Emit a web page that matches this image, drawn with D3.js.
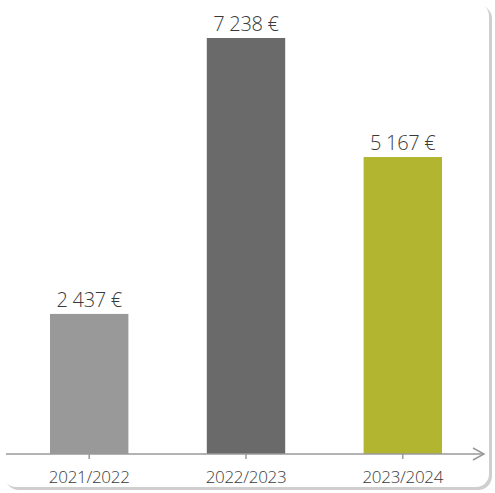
<!DOCTYPE html>
<html>
<head>
<meta charset="utf-8">
<script src="https://cdn.jsdelivr.net/npm/d3@7"></script>
<style>
  body { margin: 0; background: #fff; }
  svg { display: block; font-family: "Open Sans", sans-serif; }
</style>
</head>
<body>
<div id="chart"></div>
<script>
// data
const years = ["2021/2022", "2022/2023", "2023/2024"];
const amounts = [2437, 7238, 5167];
const barColors = ["#999999", "#6a6a6a", "#b1b52f"];

const W = 495, H = 493;
const baseY = 454;

const svg = d3.select("#chart").append("svg")
  .attr("width", W)
  .attr("height", H);

// card background with soft shadow
svg.append("rect")
  .attr("x", 5).attr("y", 5)
  .attr("width", W - 8).attr("height", H - 8)
  .attr("rx", 14)
  .attr("fill", "#cfcfcf");
svg.append("rect")
  .attr("x", 3).attr("y", 3)
  .attr("width", W - 9).attr("height", H - 9)
  .attr("rx", 13)
  .attr("fill", "#fff");

const x = d3.scaleBand()
  .domain(years)
  .range([50, 442])
  .paddingInner(0.5);

const y = d3.scaleLinear()
  .domain([0, 7238])
  .range([baseY, 38]);

const data = years.map((d, i) => ({ year: d, value: amounts[i], color: barColors[i] }));

svg.selectAll(".bar")
  .data(data)
  .enter()
  .append("rect")
  .attr("class", "bar")
  .attr("x", d => x(d.year))
  .attr("y", d => y(d.value))
  .attr("width", x.bandwidth())
  .attr("height", d => baseY - y(d.value))
  .attr("fill", d => d.color);

const fmt = v => d3.format(",")(v).replace(/,/g, " ") + " €";

svg.selectAll(".val")
  .data(data)
  .enter()
  .append("text")
  .attr("class", "val")
  .attr("x", d => x(d.year) + x.bandwidth() / 2)
  .attr("y", d => y(d.value) - 7)
  .attr("text-anchor", "middle")
  .style("font-size", "20px")
  .style("font-weight", 300)
  .style("letter-spacing", "-0.3px")
  .attr("fill", "#3a3a3a")
  .text(d => fmt(d.value));

// x axis
const axis = svg.append("g")
  .attr("transform", "translate(0," + baseY + ")")
  .call(d3.axisBottom(x).tickSize(5).tickSizeOuter(0).tickPadding(12));
axis.select(".domain").remove();
axis.selectAll(".tick line").attr("stroke", "#9a9a9a").attr("stroke-width", 1.5);
axis.selectAll(".tick text")
  .style("font-size", "17px")
  .style("font-family", "Open Sans, sans-serif")
  .style("font-weight", 300)
  .style("letter-spacing", "-0.3px")
  .attr("fill", "#3a3a3a");

svg.append("line")
  .attr("x1", 6).attr("x2", 484)
  .attr("y1", baseY).attr("y2", baseY)
  .attr("stroke", "#9a9a9a")
  .attr("stroke-width", 1.5);
svg.append("path")
  .attr("d", "M473,448 L484,454 L473,460")
  .attr("fill", "none")
  .attr("stroke", "#9a9a9a")
  .attr("stroke-width", 1.5);
</script>
</body>
</html>
